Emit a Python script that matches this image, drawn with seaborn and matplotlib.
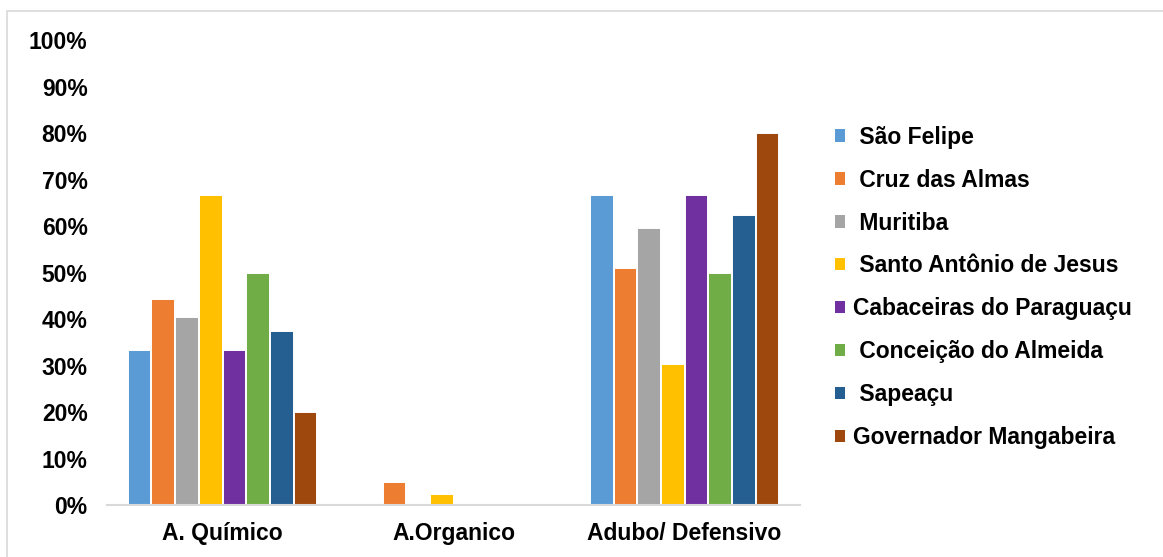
import matplotlib
matplotlib.use("Agg")
import matplotlib.pyplot as plt
import matplotlib.patches as mpatches
from matplotlib.ticker import FuncFormatter
import seaborn as sns
import pandas as pd

# Uses of fertiliser / pesticide by municipality
groups = ["A. Químico", "A.Organico", "Adubo/ Defensivo"]
cities = [
    "São Felipe",
    "Cruz das Almas",
    "Muritiba",
    "Santo Antônio de Jesus",
    "Cabaceiras do Paraguaçu",
    "Conceição do Almeida",
    "Sapeaçu",
    "Governador Mangabeira",
]
quimico = [0.333, 0.444, 0.405, 0.667, 0.333, 0.500, 0.375, 0.200]
organico = [0.0, 0.049, 0.0, 0.025, 0.0, 0.0, 0.0, 0.0]
adubo_defensivo = [0.667, 0.510, 0.595, 0.303, 0.667, 0.500, 0.625, 0.800]

colors = ["#5B9BD5", "#ED7D31", "#A5A5A5", "#FFC000",
          "#7030A0", "#70AD47", "#255E91", "#9E480E"]

rows = []
for g, vals in zip(groups, [quimico, organico, adubo_defensivo]):
    for c, v in zip(cities, vals):
        rows.append({"grupo": g, "cidade": c, "valor": v})
df = pd.DataFrame(rows)

sns.set_theme(style="white")
plt.rcParams["font.family"] = ["Liberation Sans", "DejaVu Sans"]
plt.rcParams["font.weight"] = "bold"
plt.rcParams["text.color"] = "black"

fig = plt.figure(figsize=(11.63, 5.57), dpi=100)
ax = fig.add_axes([0.092, 0.093, 0.596, 0.835])

sns.barplot(data=df, x="grupo", y="valor", hue="cidade", order=groups,
            hue_order=cities, palette=colors, saturation=1, width=0.82, ax=ax,
            edgecolor="white", linewidth=1.4, errorbar=None, legend=True)

ax.set_ylim(0, 1.0)
ax.set_xlim(-0.5, 2.5)
ax.set_yticks([i / 10 for i in range(11)])
ax.yaxis.set_major_formatter(FuncFormatter(lambda v, _: f"{v:.0%}"))
ax.tick_params(axis="y", length=0, pad=14, labelsize=16.5, labelcolor="black")
ax.tick_params(axis="x", length=0, pad=12, labelsize=16.5, labelcolor="black")
for lab in ax.get_xticklabels() + ax.get_yticklabels():
    lab.set_fontweight("bold")
ax.set_xlabel("")
ax.set_ylabel("")
for side in ["left", "right", "top"]:
    ax.spines[side].set_visible(False)
ax.spines["bottom"].set_color("#D9D9D9")
ax.spines["bottom"].set_linewidth(1.5)

handles, labels = ax.get_legend_handles_labels()
ax.get_legend().remove()
flush = {"Cabaceiras do Paraguaçu", "Governador Mangabeira"}
shown = [c if c in flush else " " + c for c in labels]
leg = fig.legend(handles, shown, loc="center left",
                 bbox_to_anchor=(0.700, 0.484), frameon=False,
                 prop={"family": "Liberation Sans", "weight": "bold", "size": 16.5},
                 handlelength=0.45, handleheight=0.45, handletextpad=0.35,
                 labelspacing=0.87)
for h in leg.legend_handles:
    h.set_edgecolor("none")
for t in leg.get_texts():
    t.set_color("black")

fig.patches.append(mpatches.Rectangle((7 / 1163, -0.01), 1.1, 1 - 11 / 557 + 0.01,
                                      transform=fig.transFigure, fill=False,
                                      edgecolor="#D9D9D9", linewidth=1.2))

fig.savefig("out.png", dpi=100, facecolor="white")
